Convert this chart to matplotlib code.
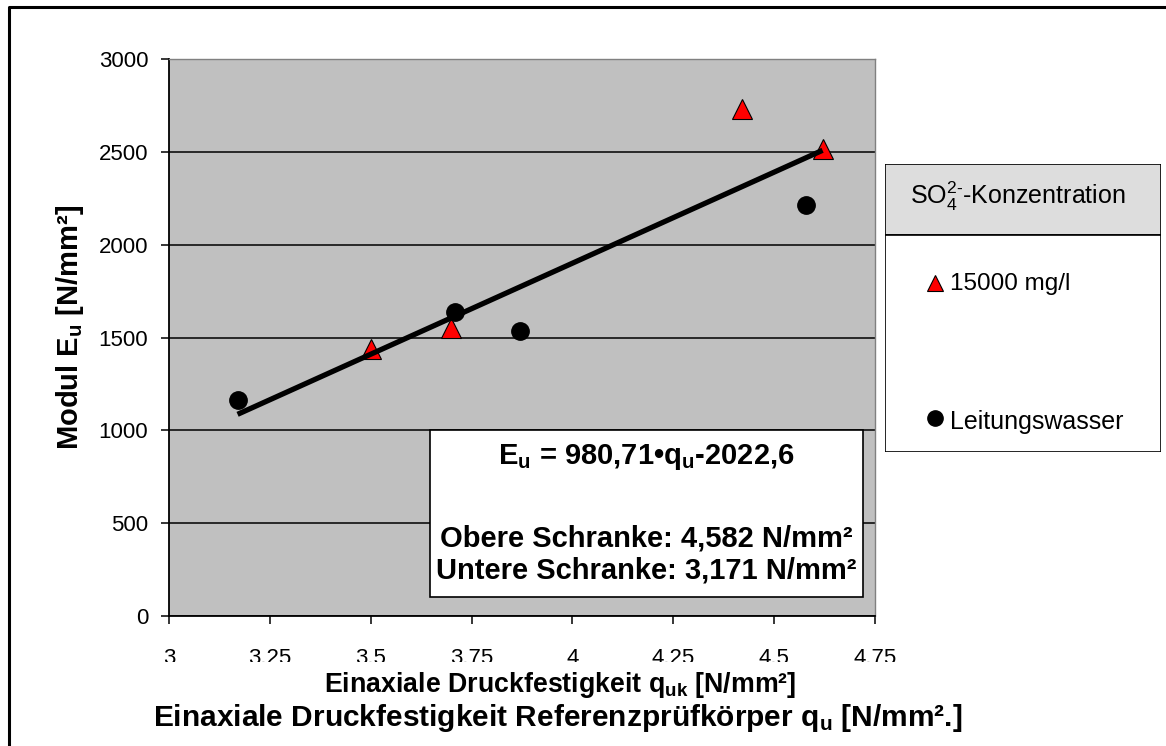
import matplotlib
matplotlib.use("Agg")
import matplotlib.pyplot as plt
from matplotlib.patches import Rectangle
from matplotlib.lines import Line2D
import numpy as np

plt.rcParams['font.family'] = ['Liberation Sans', 'DejaVu Sans']
plt.rcParams['mathtext.fontset'] = 'custom'
plt.rcParams['mathtext.rm'] = 'Liberation Sans'
plt.rcParams['mathtext.it'] = 'Liberation Sans'
plt.rcParams['mathtext.bf'] = 'Liberation Sans:bold'

# data
sulfat_q = [3.50, 3.70, 4.42, 4.62]      # 15000 mg/l SO4
sulfat_E = [1440, 1550, 2730, 2515]
wasser_q = [3.17, 3.71, 3.87, 4.58]      # Leitungswasser
wasser_E = [1165, 1640, 1535, 2215]

# regression from the chart
slope = 980.71
intercept = -2022.6

x_ticks = [3, 3.25, 3.5, 3.75, 4, 4.25, 4.5, 4.75]
x_tick_labels = ['3', '3.25', '3.5', '3.75', '4', '4.25', '4.5', '4.75']
y_ticks = [0, 500, 1000, 1500, 2000, 2500, 3000]

W, H = 1166, 746
fig = plt.figure(figsize=(W / 100, H / 100), dpi=100)

def px(x0, y0, x1, y1):
    # pixel box -> figure fraction [left, bottom, width, height]
    return [x0 / W, 1 - y1 / H, (x1 - x0) / W, (y1 - y0) / H]

ax = fig.add_axes(px(169, 59, 875, 616))
ax.set_facecolor('#c0c0c0')

# trend line over all points
all_q = np.array(sulfat_q + wasser_q)
xs = np.array([all_q.min(), all_q.max()])
ax.plot(sulfat_q, sulfat_E, linestyle='none', marker='^', ms=14,
        mfc='#ff0000', mec='black', mew=0.8, zorder=3)
ax.plot(xs, slope * xs + intercept, color='black', lw=3.8, zorder=4,
        solid_capstyle='butt')
ax.plot(wasser_q, wasser_E, linestyle='none', marker='o', ms=12.5,
        mfc='black', mec='black', zorder=5)

ax.set_xlim(3, 4.75)
ax.set_ylim(0, 3000)
ax.set_xticks(x_ticks)
ax.set_xticklabels(x_tick_labels)
ax.set_yticks(y_ticks)
ax.yaxis.grid(True, color='black', lw=1.1)
ax.set_axisbelow(True)
ax.tick_params(direction='out', length=6, width=1.1, labelsize=16)
ax.tick_params(axis='y', pad=9)
ax.tick_params(axis='x', pad=17)
for s in ['top', 'right']:
    ax.spines[s].set_color('#808080')
    ax.spines[s].set_linewidth(1)
for s in ['left', 'bottom']:
    ax.spines[s].set_linewidth(1.3)

# equation box
ax.add_patch(Rectangle((0.369, 0.034), 0.614, 0.300, transform=ax.transAxes,
                       facecolor='white', edgecolor='black', lw=1.2, zorder=6))
ax.text(0.676, 0.285, r'$\mathbf{E_u}$ = 980,71•$\mathbf{q_u}$-2022,6',
        transform=ax.transAxes, ha='center', va='center', fontsize=21,
        fontweight='bold', zorder=7)
ax.text(0.676, 0.140, 'Obere Schranke: 4,582 N/mm²', transform=ax.transAxes,
        ha='center', va='center', fontsize=21, fontweight='bold', zorder=7)
ax.text(0.676, 0.082, 'Untere Schranke: 3,171 N/mm²', transform=ax.transAxes,
        ha='center', va='center', fontsize=21, fontweight='bold', zorder=7)

# axis labels
fig.text(70 / W, 1 - 327 / H, r'Modul $\mathbf{E_u}$ [N/mm²]', rotation=90,
         ha='center', va='center', fontsize=21, fontweight='bold')
fig.add_artist(Rectangle((160 / W, 1 - 678 / H), 740 / W, 16 / H,
                         transform=fig.transFigure, facecolor='white',
                         edgecolor='none', zorder=2))
fig.text(560 / W, 1 - 685 / H, r'Einaxiale Druckfestigkeit $\mathbf{q_{uk}}$ [N/mm²]',
         ha='center', va='center', fontsize=19.3, fontweight='bold', zorder=3)
fig.text(558 / W, 1 - 718 / H,
         r'Einaxiale Druckfestigkeit Referenzprüfkörper $\mathbf{q_u}$ [N/mm².]',
         ha='center', va='center', fontsize=21.5, fontweight='bold', zorder=3)

# legend drawn by hand
lg = fig.add_axes(px(885, 164, 1161, 452))
lg.set_xlim(0, 276)
lg.set_ylim(288, 0)
lg.axis('off')
lg.add_patch(Rectangle((0, 0), 276, 71, facecolor='#dddddd', edgecolor='black', lw=1.2))
lg.add_patch(Rectangle((0, 71), 276, 217, facecolor='white', edgecolor='black', lw=1.2))
lg.text(133, 32, r'SO$_4^{2\text{-}}$-Konzentration', ha='center', va='center', fontsize=18)
lg.plot([50], [119], linestyle='none', marker='^', ms=12, mfc='#ff0000', mec='black', mew=0.8)
lg.text(65, 120, '15000 mg/l', ha='left', va='center', fontsize=17.5)
lg.plot([50], [254], linestyle='none', marker='o', ms=11, mfc='black', mec='black')
lg.text(65, 258, 'Leitungswasser', ha='left', va='center', fontsize=18)

# outer frame (cut at right and bottom)
fig.add_artist(Line2D([8.5 / W, 8.5 / W, 1.0], [0.0, 1 - 7 / H, 1 - 7 / H],
                      transform=fig.transFigure, color='black', lw=2.2))

fig.savefig('out.png', dpi=100)
